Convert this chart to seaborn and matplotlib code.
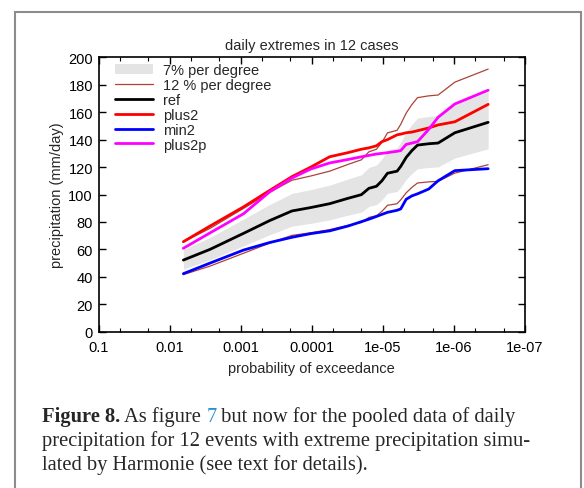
import numpy as np
import pandas as pd
import matplotlib
matplotlib.use("Agg")
import matplotlib.pyplot as plt
import seaborn as sns
from matplotlib.patches import Rectangle
from matplotlib.ticker import FixedLocator, NullLocator

# probability of exceedance for each point of the pooled curves
prob = [6.4e-3, 2.7e-3, 9.1e-4, 3.9e-4, 1.9e-4, 1.03e-4, 5.6e-5, 3.1e-5,
        2.0e-5, 1.57e-5, 1.23e-5, 1.03e-5, 8.6e-6, 6.3e-6, 5.6e-6, 4.7e-6,
        3.9e-6, 3.25e-6, 2.26e-6, 1.67e-6, 9.7e-7, 3.3e-7]

# daily precipitation (mm/day)
ref = [52.2, 60.0, 71.7, 81.0, 88.0, 90.5, 93.3, 97.2, 99.9, 104.5, 106.0,
       110.0, 115.5, 117.0, 120.5, 127.0, 132.0, 136.0, 137.0, 137.5, 145.0, 152.6]
plus2 = [65.6, 77.0, 91.0, 103.0, 113.0, 120.0, 127.5, 130.5, 133.0, 134.0, 135.5,
         138.5, 140.0, 143.5, 144.0, 145.0, 145.5, 146.5, 148.5, 150.7, 153.0, 165.7]
min2 = [42.3, 50.0, 59.5, 65.0, 68.8, 71.5, 73.5, 77.0, 80.2, 82.0, 84.0,
        85.5, 87.0, 88.5, 89.5, 96.5, 99.0, 100.5, 104.0, 110.0, 117.4, 118.8]
plus2p = [60.8, 72.0, 86.0, 102.0, 112.0, 118.6, 123.0, 125.5, 127.5, 128.5, 129.5,
          130.0, 130.5, 131.5, 132.0, 136.5, 137.5, 138.5, 147.5, 156.3, 166.0, 176.0]

# 7% per degree band around ref
band_lo = [45.6, 52.4, 62.6, 70.7, 76.9, 79.0, 81.5, 84.9, 87.2, 91.3, 92.6,
           96.1, 100.9, 102.2, 105.2, 110.9, 115.3, 118.8, 119.7, 120.1, 126.6, 133.3]
band_hi = [59.8, 68.7, 82.1, 92.7, 100.8, 103.6, 106.8, 111.3, 114.4, 119.7, 121.4,
           126.0, 132.2, 134.0, 138.0, 145.4, 151.1, 155.7, 156.9, 157.4, 166.0, 174.7]

# 12 % per degree curves around ref
c12_lo = [41.6, 47.8, 57.2, 64.6, 70.2, 72.1, 74.4, 77.5, 79.6, 83.3, 84.5,
          87.7, 92.1, 93.3, 96.1, 101.2, 105.2, 108.4, 109.2, 109.6, 115.6, 121.7]
c12_hi = [65.5, 75.3, 89.9, 101.6, 110.4, 113.5, 117.0, 121.9, 125.3, 131.1, 133.0,
          138.0, 144.9, 146.8, 151.2, 159.3, 165.6, 170.6, 171.9, 172.5, 181.9, 191.4]

xticks = [1e-1, 1e-2, 1e-3, 1e-4, 1e-5, 1e-6, 1e-7]
xticklabels = ["0.1", "0.01", "0.001", "0.0001", "1e-05", "1e-06", "1e-07"]
yticks = list(range(0, 201, 20))

sns.set_style("ticks")
plt.rcParams["font.family"] = ["Liberation Sans", "DejaVu Sans"]

df = pd.DataFrame({"p": prob, "ref": ref, "plus2": plus2, "min2": min2,
                   "plus2p": plus2p, "lo12": c12_lo, "hi12": c12_hi})

FS = 10.5
W, H = 584, 489
fig = plt.figure(figsize=(W / 100, H / 100), dpi=100)
ax = fig.add_axes([98.5 / W, 1 - 332.7 / H, (525 - 98.5) / W, (332.7 - 58.3) / H])

ax.fill_between(df["p"], band_lo, band_hi, color="#e4e4e4", lw=0,
                label="7% per degree")
sns.lineplot(data=df, x="p", y="hi12", ax=ax, color="#ad4238", lw=0.9,
             label="12 % per degree")
sns.lineplot(data=df, x="p", y="lo12", ax=ax, color="#ad4238", lw=0.9, label="_lo12")
sns.lineplot(data=df, x="p", y="ref", ax=ax, color="black", lw=2.0, label="ref")
sns.lineplot(data=df, x="p", y="plus2", ax=ax, color="#ff0000", lw=2.0, label="plus2")
sns.lineplot(data=df, x="p", y="min2", ax=ax, color="#0000ff", lw=2.0, label="min2")
sns.lineplot(data=df, x="p", y="plus2p", ax=ax, color="#ff00ff", lw=2.0, label="plus2p")

ax.set_xscale("log")
ax.set_xlim(0.1, 1e-7)
ax.set_ylim(0, 200)
ax.xaxis.set_major_locator(FixedLocator(xticks))
ax.set_xticklabels(xticklabels)
minors = [m * 10.0 ** e for e in range(-8, -1) for m in (2, 5)]
ax.xaxis.set_minor_locator(FixedLocator(minors))
ax.set_yticks(yticks)
ax.yaxis.set_minor_locator(NullLocator())

ax.tick_params(which="both", direction="in", top=True, right=True,
               labelsize=FS, colors="black")
ax.tick_params(axis="x", pad=6)
ax.tick_params(axis="y", pad=4)
ax.tick_params(which="major", length=5, width=1)
ax.tick_params(which="minor", length=3, width=0.8)
for s in ax.spines.values():
    s.set_linewidth(1.2)
    s.set_color("black")

ax.set_xlabel("probability of exceedance", fontsize=FS, labelpad=5)
ax.set_ylabel("precipitation (mm/day)", fontsize=FS, labelpad=3)
ax.set_title("daily extremes in 12 cases", fontsize=FS, pad=6)

ax.legend(loc="upper left", frameon=False, fontsize=FS, handlelength=2.6,
          handletextpad=0.7, labelspacing=0.06, borderpad=0.2,
          borderaxespad=0.2, bbox_to_anchor=(0.025, 1.0))

# page frame around figure and caption
fig.patches.append(Rectangle((15 / W, -0.1), (581 - 15) / W, 1.1 - 13 / H,
                             transform=fig.transFigure, fill=False,
                             edgecolor="#8c8c8c", lw=1.5))

# caption
serif = ["Liberation Serif", "DejaVu Serif"]
cap_fs = 14.8
x0 = 42 / W
fig.canvas.draw()
renderer = fig.canvas.get_renderer()
x = x0
y1 = 1 - 422 / H
for txt, kw in [("Figure 8.", dict(fontweight="bold")),
                (" As figure ", {}),
                ("7", dict(color="#2b8fcf")),
                (" but now for the pooled data of daily", {})]:
    t = fig.text(x, y1, txt, fontsize=cap_fs, family=serif, va="baseline", **kw)
    bb = t.get_window_extent(renderer)
    x = bb.x1 / fig.bbox.width
fig.text(x0, 1 - 446.5 / H,
         "precipitation for 12 events with extreme precipitation simu-",
         fontsize=cap_fs, family=serif, va="baseline")
fig.text(x0, 1 - 470.5 / H, "lated by Harmonie (see text for details).",
         fontsize=cap_fs, family=serif, va="baseline")

fig.savefig("out.png", dpi=100)
